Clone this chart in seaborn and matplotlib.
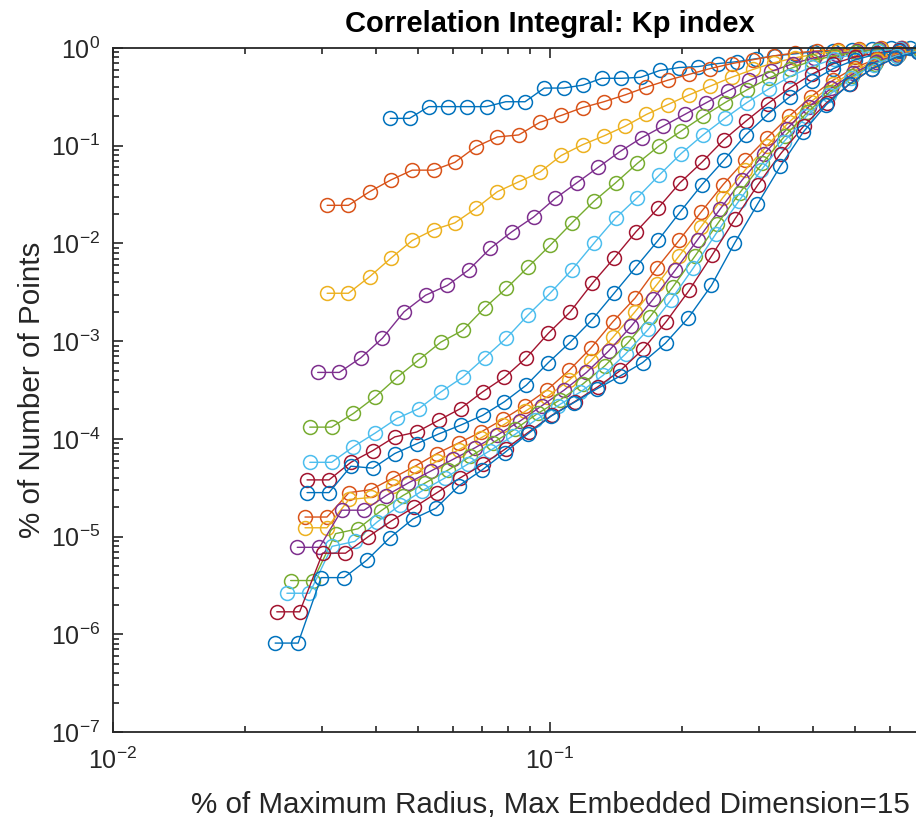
import numpy as np
import pandas as pd
import matplotlib
matplotlib.use("Agg")
import matplotlib.pyplot as plt
import seaborn as sns
from matplotlib.ticker import (FixedLocator, LogFormatterMathtext, NullFormatter,
                               FuncFormatter)

# ---- data (log10 of correlation integral) ----
n_points = 32
# first radius of every embedding dimension, as fraction of maximum radius
x_start = [0.0431, 0.0309, 0.0309, 0.0294, 0.0282, 0.0282, 0.0278, 0.0278,
           0.0275, 0.0275, 0.0264, 0.0255, 0.0250, 0.0237, 0.0235]

c1 = [-0.72, -0.72, -0.60, -0.60, -0.60, -0.60, -0.55, -0.55, -0.41, -0.41, -0.38, -0.31,
      -0.31, -0.30, -0.23, -0.20, -0.19, -0.16, -0.14, -0.11, -0.08, -0.06, -0.04, -0.03,
      -0.02, -0.01, -0.005, 0, 0, 0, 0, 0]
c2 = [-1.61, -1.61, -1.47, -1.35, -1.25, -1.25, -1.17, -1.01, -0.91, -0.89, -0.76, -0.69,
      -0.61, -0.55, -0.48, -0.40, -0.33, -0.27, -0.21, -0.16, -0.12, -0.08, -0.05, -0.03,
      -0.02, -0.01, -0.005, 0, 0, 0, 0, 0]
c3 = [-2.51, -2.51, -2.34, -2.15, -1.97, -1.86, -1.79, -1.64, -1.47, -1.37, -1.27, -1.10,
      -0.99, -0.90, -0.80, -0.68, -0.58, -0.48, -0.39, -0.30, -0.22, -0.15, -0.10, -0.06,
      -0.035, -0.02, -0.01, 0, 0, 0, 0, 0]
c4 = [-3.32, -3.32, -3.17, -2.97, -2.70, -2.53, -2.43, -2.27, -2.05, -1.88, -1.73, -1.54,
      -1.38, -1.22, -1.06, -0.92, -0.80, -0.68, -0.56, -0.44, -0.33, -0.24, -0.16, -0.10,
      -0.06, -0.03, -0.015, -0.005, 0, 0, 0, 0]
c5 = [-3.88, -3.88, -3.74, -3.57, -3.37, -3.19, -3.01, -2.89, -2.66, -2.46, -2.24, -2.02,
      -1.79, -1.57, -1.38, -1.18, -1.00, -0.85, -0.70, -0.56, -0.43, -0.31, -0.21, -0.13,
      -0.08, -0.04, -0.02, -0.01, 0, 0, 0, 0]
c6 = [-4.24, -4.24, -4.08, -3.94, -3.79, -3.69, -3.52, -3.37, -3.17, -2.97, -2.73, -2.51,
      -2.27, -2.00, -1.74, -1.53, -1.30, -1.08, -0.89, -0.72, -0.56, -0.42, -0.29, -0.19,
      -0.11, -0.06, -0.03, -0.01, 0, 0, 0, 0]
c7 = [-4.42, -4.42, -4.24, -4.12, -3.98, -3.93, -3.81, -3.69, -3.52, -3.37, -3.17, -2.92,
      -2.70, -2.41, -2.15, -1.88, -1.64, -1.38, -1.17, -0.94, -0.75, -0.57, -0.41, -0.27,
      -0.16, -0.09, -0.05, -0.02, -0.01, 0, 0, 0]
c8 = [-4.55, -4.55, -4.28, -4.30, -4.15, -4.05, -3.95, -3.86, -3.76, -3.62, -3.45, -3.22,
      -3.01, -2.78, -2.51, -2.24, -1.97, -1.68, -1.40, -1.15, -0.89, -0.68, -0.50, -0.34,
      -0.21, -0.12, -0.06, -0.03, -0.01, 0, 0, 0]
c9 = [-4.80, -4.80, -4.55, -4.52, -4.40, -4.28, -4.15, -4.04, -3.93, -3.80, -3.66, -3.50,
      -3.30, -3.07, -2.80, -2.56, -2.25, -1.97, -1.68, -1.40, -1.15, -0.92, -0.70, -0.50,
      -0.33, -0.20, -0.11, -0.05, -0.02, -0.01, 0, 0]
c10 = [-4.91, -4.91, -4.62, -4.60, -4.48, -4.35, -4.23, -4.11, -3.99, -3.86, -3.72, -3.57,
       -3.40, -3.20, -2.96, -2.70, -2.42, -2.13, -1.83, -1.53, -1.25, -1.00, -0.76, -0.55,
       -0.37, -0.23, -0.12, -0.06, -0.02, -0.01, 0, 0]
c11 = [-5.11, -5.11, -4.73, -4.73, -4.58, -4.45, -4.33, -4.21, -4.09, -3.96, -3.82, -3.66,
       -3.50, -3.32, -3.10, -2.85, -2.57, -2.27, -1.96, -1.65, -1.35, -1.08, -0.83, -0.60,
       -0.41, -0.26, -0.14, -0.07, -0.03, -0.01, 0, 0]
c12 = [-5.45, -5.45, -4.97, -4.92, -4.74, -4.58, -4.45, -4.32, -4.18, -4.04, -3.90, -3.74,
       -3.60, -3.44, -3.25, -3.02, -2.75, -2.45, -2.13, -1.80, -1.48, -1.18, -0.90, -0.66,
       -0.45, -0.29, -0.16, -0.08, -0.03, -0.01, 0, 0]
c13 = [-5.58, -5.58, -5.10, -5.05, -4.85, -4.68, -4.53, -4.40, -4.26, -4.12, -3.97, -3.81,
       -3.66, -3.52, -3.35, -3.13, -2.88, -2.58, -2.25, -1.90, -1.57, -1.25, -0.96, -0.70,
       -0.48, -0.31, -0.17, -0.08, -0.03, -0.01, 0, 0]
c14 = [-5.77, -5.77, -5.17, -5.17, -5.00, -4.84, -4.70, -4.55, -4.40, -4.26, -4.10, -3.93,
       -3.76, -3.62, -3.47, -3.30, -3.08, -2.80, -2.48, -2.12, -1.75, -1.40, -1.08, -0.80,
       -0.56, -0.37, -0.21, -0.10, -0.04, -0.01, 0, 0]
c15 = [-6.09, -6.09, -5.42, -5.42, -5.24, -5.01, -4.82, -4.71, -4.48, -4.32, -4.14, -3.95,
       -3.77, -3.63, -3.49, -3.36, -3.22, -3.02, -2.76, -2.43, -2.00, -1.60, -1.21, -0.86,
       -0.58, -0.37, -0.21, -0.10, -0.04, -0.01, 0, 0]

log_series = [c1, c2, c3, c4, c5, c6, c7, c8, c9, c10, c11, c12, c13, c14, c15]

x_major = [1e-2, 1e-1, 1e0]
y_major = [1e-7, 1e-6, 1e-5, 1e-4, 1e-3, 1e-2, 1e-1, 1e0]

title_text = "Correlation Integral: Kp index"
xlabel_text = "% of Maximum Radius, Max Embedded Dimension=15"
ylabel_text = "% of Number of Points"

matlab_colors = ["#0072BD", "#D95319", "#EDB120", "#7E2F8E",
                 "#77AC30", "#4DBEEE", "#A2142F"]

# ---- build table ----
rows = []
for d, (x0, vals) in enumerate(zip(x_start, log_series), start=1):
    xs = np.geomspace(x0, 1.0, n_points)
    for xv, lv in zip(xs, vals):
        rows.append({"dim": d, "r": xv, "C": 10.0 ** lv})
df = pd.DataFrame(rows)

# ---- style ----
sns.set_theme(style="ticks")
plt.rcParams["font.family"] = ["Liberation Sans", "DejaVu Sans"]
plt.rcParams["mathtext.fontset"] = "custom"
plt.rcParams["mathtext.rm"] = "Liberation Sans"
plt.rcParams["mathtext.it"] = "Liberation Sans:italic"
plt.rcParams["mathtext.bf"] = "Liberation Sans:bold"

W, H = 916, 823
fig = plt.figure(figsize=(W / 100, H / 100), dpi=100)
left_px, right_px, top_px, bottom_px = 113, 987, 48, 732
ax = fig.add_axes([left_px / W, (H - bottom_px) / H,
                   (right_px - left_px) / W, (bottom_px - top_px) / H])
ax.set_xscale("log")
ax.set_yscale("log")

for d in range(1, 16):
    col = matlab_colors[(d - 1) % len(matlab_colors)]
    sub = df[df["dim"] == d]
    sns.lineplot(data=sub, x="r", y="C", ax=ax, color=col, estimator=None,
                 sort=False, legend=False, linewidth=1.0, marker="o",
                 markersize=10, markerfacecolor="none", markeredgecolor=col,
                 markeredgewidth=1.1, clip_on=False)

ax.set_xlim(1e-2, 1e0)
ax.set_ylim(1e-7, 1e0)

axis_col = "#262626"
for sp in ax.spines.values():
    sp.set_color(axis_col)
    sp.set_linewidth(1.3)
    sp.set_visible(True)

_mt = LogFormatterMathtext()


def x_fmt(v, pos=None):
    # the 10^0 label lies outside the cropped figure
    if v > 0.5:
        return ""
    return _mt(v, pos)


x_minor = [m * 10.0 ** e for e in (-2, -1) for m in range(2, 10)]
y_minor = [m * 10.0 ** e for e in range(-7, 0) for m in range(2, 10)]

ax.xaxis.set_major_locator(FixedLocator(x_major))
ax.yaxis.set_major_locator(FixedLocator(y_major))
ax.xaxis.set_minor_locator(FixedLocator(x_minor))
ax.yaxis.set_minor_locator(FixedLocator(y_minor))
ax.xaxis.set_major_formatter(FuncFormatter(x_fmt))
ax.yaxis.set_major_formatter(LogFormatterMathtext())
ax.xaxis.set_minor_formatter(NullFormatter())
ax.yaxis.set_minor_formatter(NullFormatter())

ax.tick_params(which="both", direction="in", top=True, right=True,
               color=axis_col, labelcolor=axis_col, width=1.2)
ax.tick_params(which="major", length=7, labelsize=18)
ax.tick_params(axis="x", which="major", pad=11)
ax.tick_params(axis="y", which="major", pad=9)
ax.tick_params(which="minor", length=4)

ax.set_xlabel(xlabel_text, fontsize=21.3, color=axis_col)
ax.xaxis.set_label_coords(0.5, -0.0863)
ax.set_ylabel(ylabel_text, fontsize=21.3, color=axis_col)
ax.yaxis.set_label_coords(-0.077, 0.5)
ax.set_title(title_text, fontsize=21, fontweight="bold", color="black", pad=11.5)
ax.set_facecolor("white")
fig.patch.set_facecolor("white")

fig.savefig("out.png", dpi=100, facecolor="white")
